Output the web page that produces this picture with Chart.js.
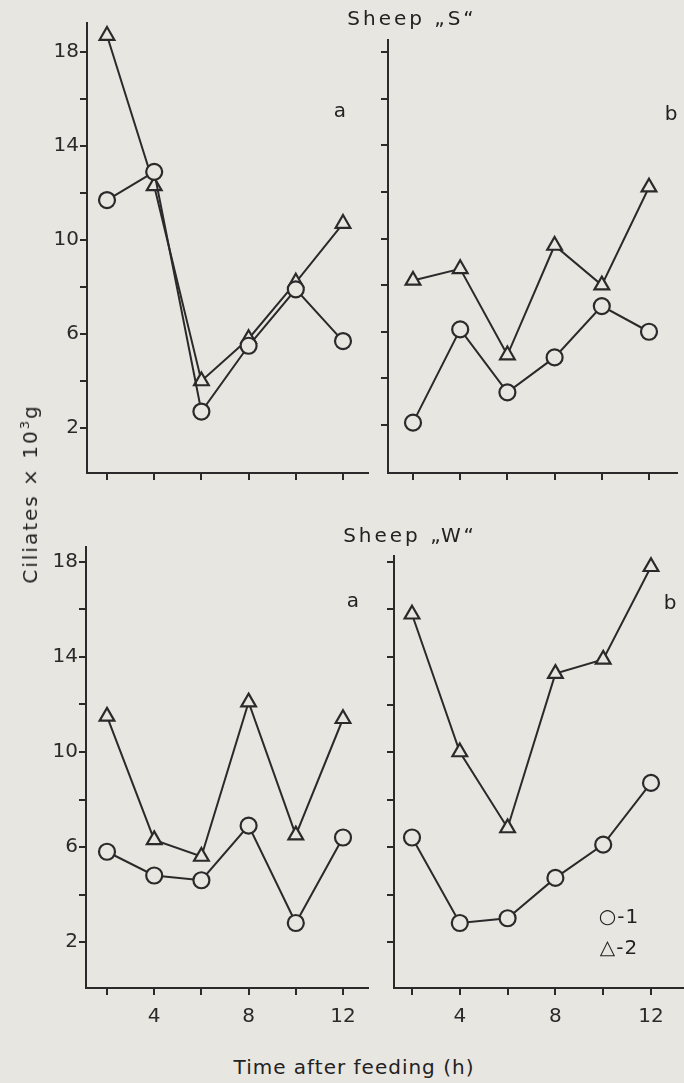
<!DOCTYPE html>
<html>
<head>
<meta charset="utf-8">
<script src="https://cdn.jsdelivr.net/npm/chart.js@4/dist/chart.umd.min.js"></script>
<style>
  html, body { margin:0; padding:0; }
  body { width:684px; height:1083px; overflow:hidden; position:relative; background:#e8e6e1;
         font-family:"DejaVu Sans", sans-serif; color:#222222; }
  .panel { position:absolute; }
  .txt { position:absolute; white-space:nowrap; font-size:20px; line-height:1; }
  .c { transform:translate(-50%,-50%); }
  .ytitle { transform:translate(-50%,-50%) rotate(-90deg); letter-spacing:2px; }
  sup { font-size:13px; vertical-align:8px; }
</style>
</head>
<body>
<script>
// ---- data ----
const hours = [2, 4, 6, 8, 10, 12];
const sheepS_a_1 = [11.7, 12.9, 2.7, 5.5, 7.9, 5.7];
const sheepS_a_2 = [18.7, 12.3, 4.0, 5.8, 8.2, 10.7];
const sheepS_b_1 = [2.1, 6.1, 3.4, 4.9, 7.1, 6.0];
const sheepS_b_2 = [8.2, 8.7, 5.0, 9.7, 8.0, 12.2];
const sheepW_a_1 = [5.8, 4.8, 4.6, 6.9, 2.8, 6.4];
const sheepW_a_2 = [11.5, 6.3, 5.6, 12.1, 6.5, 11.4];
const sheepW_b_1 = [6.4, 2.8, 3.0, 4.7, 6.1, 8.7];
const sheepW_b_2 = [15.8, 10.0, 6.8, 13.3, 13.9, 17.8];
const yTicks = [2, 4, 6, 8, 10, 12, 14, 16, 18];
const yTickLabels = ['2', '6', '10', '14', '18'];
const xTicks = [2, 4, 6, 8, 10, 12];
const xTickLabels = ['4', '8', '12'];
const seriesNames = ['1', '2'];

// ---- style / layout ----
const BG = '#e8e6e1', INK = '#2a2a2a';
const FONT = { family: 'DejaVu Sans', size: 20 };
const AX_W = 60, AX_H = 45, PAD_T = 14, PAD_R = 12;

function span(pa, va, pb, vb, lo, hi) {
  const k = (vb - va) / (pb - pa);
  return [va + (lo - pa) * k, va + (hi - pa) * k];
}

const panels = [
  { L: 87, T: 23, R: 368, B: 473, x: [107, 343], y: [428, 52], s1: sheepS_a_1, s2: sheepS_a_2, yl: true, xl: false },
  { L: 388, T: 40, R: 677, B: 473, x: [413, 649], y: [425, 52], s1: sheepS_b_1, s2: sheepS_b_2, yl: false, xl: false },
  { L: 86, T: 547, R: 368, B: 988, x: [107, 343], y: [942, 562], s1: sheepW_a_1, s2: sheepW_a_2, yl: true, xl: true },
  { L: 394, T: 556, R: 684, B: 988, x: [412, 651], y: [942, 562], s1: sheepW_b_1, s2: sheepW_b_2, yl: false, xl: true },
];

panels.forEach(p => {
  const div = document.createElement('div');
  div.className = 'panel';
  const w = (p.R - p.L) + AX_W + PAD_R, h = (p.B - p.T) + PAD_T + AX_H;
  Object.assign(div.style, { left: (p.L - AX_W) + 'px', top: (p.T - PAD_T) + 'px', width: w + 'px', height: h + 'px' });
  const cv = document.createElement('canvas');
  div.appendChild(cv);
  document.body.appendChild(div);

  const [xmin, xmax] = span(p.x[0], 2, p.x[1], 12, p.L, p.R);
  const [ymin, ymax] = span(p.y[0], 2, p.y[1], 18, p.B, p.T);

  const mk = (vals, i, style, r) => ({
    label: seriesNames[i],
    data: hours.map((hh, j) => ({ x: hh, y: vals[j] })),
    borderColor: INK, borderWidth: 2, tension: 0, clip: false,
    pointStyle: style, pointRadius: r, pointBorderWidth: 2.2,
    pointBackgroundColor: BG, pointBorderColor: INK,
  });

  new Chart(cv, {
    type: 'line',
    data: { datasets: [mk(p.s1, 0, 'circle', 8), mk(p.s2, 1, 'triangle', 8.5)] },
    options: {
      responsive: true, maintainAspectRatio: false, animation: false,
      layout: { padding: { left: 0, top: PAD_T, right: PAD_R, bottom: 0 }, autoPadding: false },
      plugins: { legend: { display: false }, tooltip: { enabled: false } },
      scales: {
        x: {
          type: 'linear', min: xmin, max: xmax,
          afterFit: s => { s.height = AX_H; },
          afterBuildTicks: s => { s.ticks = xTicks.map(v => ({ value: v })); },
          ticks: {
            autoSkip: false, maxRotation: 0, padding: 10, color: INK, font: FONT,
            callback: v => (p.xl && xTickLabels.includes(String(v))) ? String(v) : ''
          },
          grid: { drawOnChartArea: false, drawTicks: true, tickLength: 7, color: INK, lineWidth: 2 },
          border: { display: true, color: INK, width: 2 }
        },
        y: {
          type: 'linear', min: ymin, max: ymax,
          afterFit: s => { s.width = AX_W; },
          afterBuildTicks: s => { s.ticks = yTicks.map(v => ({ value: v })); },
          ticks: {
            autoSkip: false, padding: 1, color: INK, font: FONT,
            callback: v => (p.yl && yTickLabels.includes(String(v))) ? String(v) : ''
          },
          grid: { drawOnChartArea: false, drawTicks: true, tickLength: 7, color: INK, lineWidth: 2 },
          border: { display: true, color: INK, width: 2 }
        }
      }
    }
  });
});

// ---- text overlays ----
const texts = [
  { t: 'Sheep „S“', x: 412, y: 18, ls: 3 },
  { t: 'Sheep „W“', x: 410, y: 535, ls: 3 },
  { t: 'a', x: 340, y: 110 },
  { t: 'b', x: 671, y: 113 },
  { t: 'a', x: 353, y: 600 },
  { t: 'b', x: 670, y: 602 },
  { t: 'Time after feeding (h)', x: 354, y: 1067, ls: 1 },
  { t: '○-1', x: 619, y: 916, ls: 1 },
  { t: '△-2', x: 619, y: 947, ls: 1 },
];
texts.forEach(o => {
  const d = document.createElement('div');
  d.className = 'txt c';
  d.textContent = o.t;
  d.style.left = o.x + 'px'; d.style.top = o.y + 'px';
  if (o.ls) d.style.letterSpacing = o.ls + 'px';
  document.body.appendChild(d);
});
const yt = document.createElement('div');
yt.className = 'txt ytitle';
yt.innerHTML = 'Ciliates × 10<sup>3</sup>g';
yt.style.left = '29px'; yt.style.top = '494px';
document.body.appendChild(yt);
</script>
</body>
</html>
